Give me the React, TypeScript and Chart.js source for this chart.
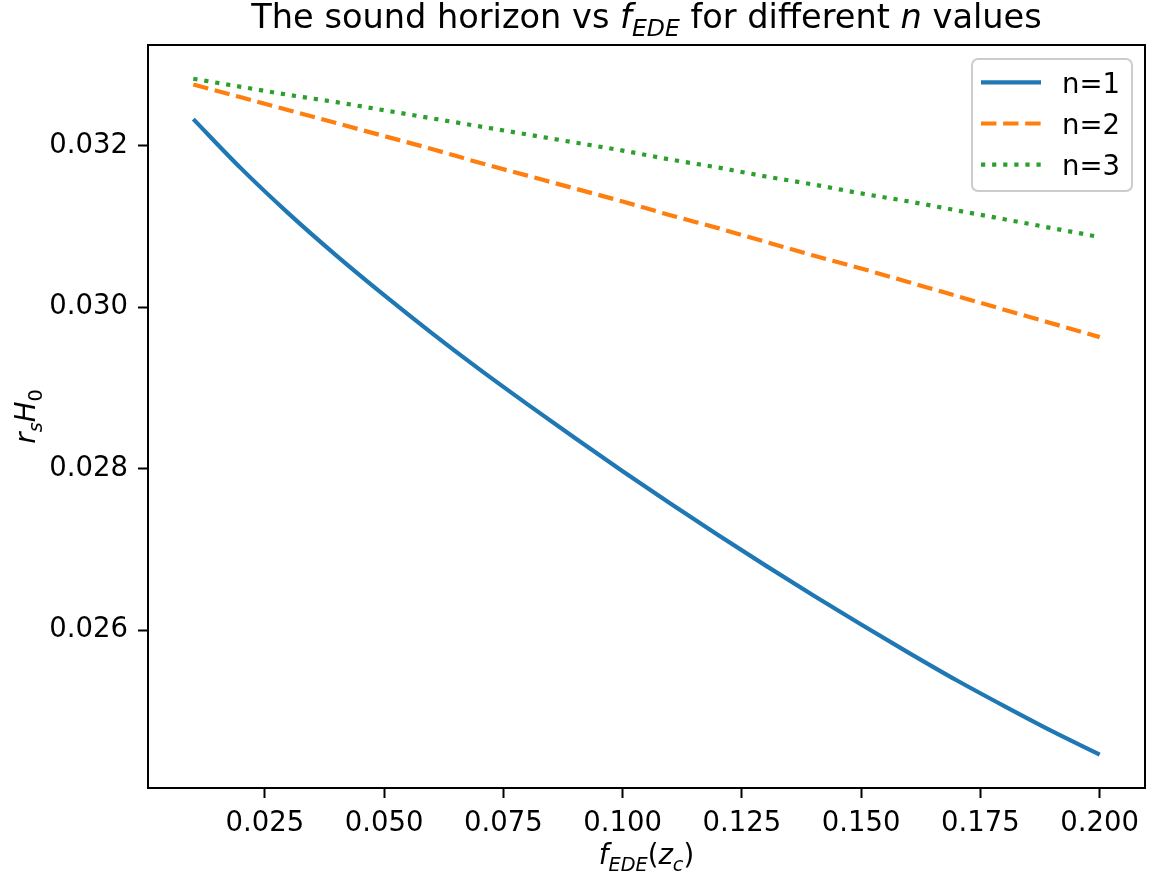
import React, { useEffect, useRef } from "react";
import { Chart, registerables } from "chart.js";

Chart.register(...registerables);

// ---- data ----
const fEDE = [0.01, 0.02, 0.03, 0.04, 0.05, 0.06, 0.07, 0.08, 0.09, 0.10, 0.11, 0.12, 0.13, 0.14, 0.15, 0.16, 0.17, 0.18, 0.19, 0.20];
const rsH0_n1 = [0.03233, 0.03172, 0.03116, 0.03064, 0.03015, 0.02968, 0.02923, 0.02880, 0.02838, 0.02797, 0.02757, 0.02718, 0.02680, 0.02643, 0.02607, 0.02572, 0.02538, 0.02506, 0.02475, 0.02446];
const rsH0_n2 = [0.03276, 0.03260, 0.03244, 0.03228, 0.03212, 0.03196, 0.03179, 0.03163, 0.03147, 0.03131, 0.03114, 0.03098, 0.03081, 0.03064, 0.03048, 0.03031, 0.03014, 0.02997, 0.02980, 0.02963];
const rsH0_n3 = [0.03283, 0.03273, 0.03263, 0.03254, 0.03244, 0.03234, 0.03224, 0.03214, 0.03204, 0.03194, 0.03183, 0.03173, 0.03162, 0.03152, 0.03141, 0.03131, 0.03120, 0.03109, 0.03098, 0.03087];
const seriesLabels = ["n=1", "n=2", "n=3"];
const xTickStep = 0.025;
const yTickStep = 0.002;
const xRange = [0.0005, 0.2095];
const yRange = [0.024046, 0.033248];

const FONT = "'DejaVu Sans'";
const COLORS = ["#1f77b4", "#ff7f0e", "#2ca02c"];
const DASHES: number[][] = [[], [15.4, 6.7], [4.2, 6.9]];

type Run = { t: string; it?: boolean; sub?: boolean };

function runFont(r: Run, size: number) {
  const s = r.sub ? size * 0.7 : size;
  return `${r.it ? "italic " : ""}${s}px ${FONT}`;
}

function drawRich(ctx: CanvasRenderingContext2D, runs: Run[], cx: number, baseline: number, size: number) {
  let total = 0;
  const widths = runs.map((r) => {
    ctx.font = runFont(r, size);
    const w = ctx.measureText(r.t).width;
    total += w;
    return w;
  });
  let x = cx - total / 2;
  ctx.textAlign = "left";
  ctx.textBaseline = "alphabetic";
  runs.forEach((r, i) => {
    ctx.font = runFont(r, size);
    ctx.fillText(r.t, x, baseline + (r.sub ? size * 0.24 : 0));
    x += widths[i];
  });
}

const titleRuns: Run[] = [
  { t: "The sound horizon vs " },
  { t: "f", it: true },
  { t: "EDE", it: true, sub: true },
  { t: " for different " },
  { t: "n", it: true },
  { t: " values" },
];
const xLabelRuns: Run[] = [
  { t: "f", it: true },
  { t: "EDE", it: true, sub: true },
  { t: "(" },
  { t: "z", it: true },
  { t: "c", it: true, sub: true },
  { t: ")" },
];
const yLabelRuns: Run[] = [
  { t: "r", it: true },
  { t: "s", it: true, sub: true },
  { t: "H", it: true },
  { t: "0", sub: true },
];

const decorPlugin = {
  id: "decor",
  afterDraw(chart: any) {
    const ctx: CanvasRenderingContext2D = chart.ctx;
    const a = chart.chartArea;
    ctx.save();
    // frame
    ctx.strokeStyle = "#000";
    ctx.lineWidth = 2;
    ctx.setLineDash([]);
    ctx.strokeRect(a.left, a.top, a.right - a.left, a.bottom - a.top);
    ctx.fillStyle = "#000";
    // title
    drawRich(ctx, titleRuns, (a.left + a.right) / 2, 28, 33.6);
    // x label
    drawRich(ctx, xLabelRuns, (a.left + a.right) / 2, 864, 27.5);
    // y label
    ctx.save();
    ctx.translate(35, (a.top + a.bottom) / 2);
    ctx.rotate(-Math.PI / 2);
    drawRich(ctx, yLabelRuns, 0, 0, 27.5);
    ctx.restore();
    // legend
    const lx = 972, ly = 59, lw = 160, lh = 132, rr = 6;
    ctx.beginPath();
    ctx.moveTo(lx + rr, ly);
    ctx.arcTo(lx + lw, ly, lx + lw, ly + lh, rr);
    ctx.arcTo(lx + lw, ly + lh, lx, ly + lh, rr);
    ctx.arcTo(lx, ly + lh, lx, ly, rr);
    ctx.arcTo(lx, ly, lx + lw, ly, rr);
    ctx.closePath();
    ctx.fillStyle = "rgba(255,255,255,0.8)";
    ctx.fill();
    ctx.strokeStyle = "#cccccc";
    ctx.lineWidth = 2;
    ctx.stroke();
    seriesLabels.forEach((lab, i) => {
      const cy = 82.3 + i * 41.2;
      ctx.beginPath();
      ctx.strokeStyle = COLORS[i];
      ctx.lineWidth = 4.2;
      ctx.lineCap = "butt";
      ctx.setLineDash(DASHES[i]);
      ctx.moveTo(981, cy);
      ctx.lineTo(1041, cy);
      ctx.stroke();
      ctx.setLineDash([]);
      ctx.fillStyle = "#000";
      ctx.font = `27.5px ${FONT}`;
      ctx.textAlign = "left";
      ctx.textBaseline = "alphabetic";
      ctx.fillText(lab, 1062, cy + 10.2);
    });
    ctx.restore();
  },
};

export default function App() {
  const ref = useRef<HTMLCanvasElement | null>(null);
  useEffect(() => {
    document.body.style.margin = "0";
    if (!ref.current) return;
    const series = [rsH0_n1, rsH0_n2, rsH0_n3];
    const chart = new Chart(ref.current, {
      type: "line",
      data: {
        datasets: series.map((s, i) => ({
          label: seriesLabels[i],
          data: fEDE.map((x, j) => ({ x, y: s[j] })),
          borderColor: COLORS[i],
          backgroundColor: COLORS[i],
          borderWidth: 4.2,
          borderDash: DASHES[i],
          borderCapStyle: "butt" as const,
          pointRadius: 0,
          cubicInterpolationMode: "monotone" as const,
          fill: false,
        })),
      },
      options: {
        animation: false,
        responsive: true,
        maintainAspectRatio: false,
        events: [],
        layout: { padding: { top: 45, right: 4, left: 0, bottom: 0 } },
        plugins: {
          legend: { display: false },
          title: { display: false },
          tooltip: { enabled: false },
        },
        scales: {
          x: {
            type: "linear",
            min: xRange[0],
            max: xRange[1],
            afterFit: (s: any) => {
              s.height = 91;
            },
            border: { display: false },
            grid: { drawOnChartArea: false, drawTicks: true, tickLength: 10, tickWidth: 2, tickColor: "#000" },
            ticks: {
              stepSize: xTickStep,
              includeBounds: false,
              autoSkip: false,
              maxRotation: 0,
              padding: 9,
              color: "#000",
              font: { family: FONT, size: 27.5 },
              callback: (v: any) => Number(v).toFixed(3),
            },
          },
          y: {
            type: "linear",
            min: yRange[0],
            max: yRange[1],
            afterFit: (s: any) => {
              s.width = 148;
            },
            border: { display: false },
            grid: { drawOnChartArea: false, drawTicks: true, tickLength: 10, tickWidth: 2, tickColor: "#000" },
            ticks: {
              stepSize: yTickStep,
              includeBounds: false,
              autoSkip: false,
              padding: 10,
              color: "#000",
              font: { family: FONT, size: 27.5 },
              callback: (v: any) => Number(v).toFixed(3),
            },
          },
        },
      },
      plugins: [decorPlugin],
    });
    return () => chart.destroy();
  }, []);
  return (
    <div style={{ position: "absolute", left: 0, top: 0, width: 1149, height: 879, background: "#fff" }}>
      <canvas ref={ref} style={{ display: "block" }} />
    </div>
  );
}
